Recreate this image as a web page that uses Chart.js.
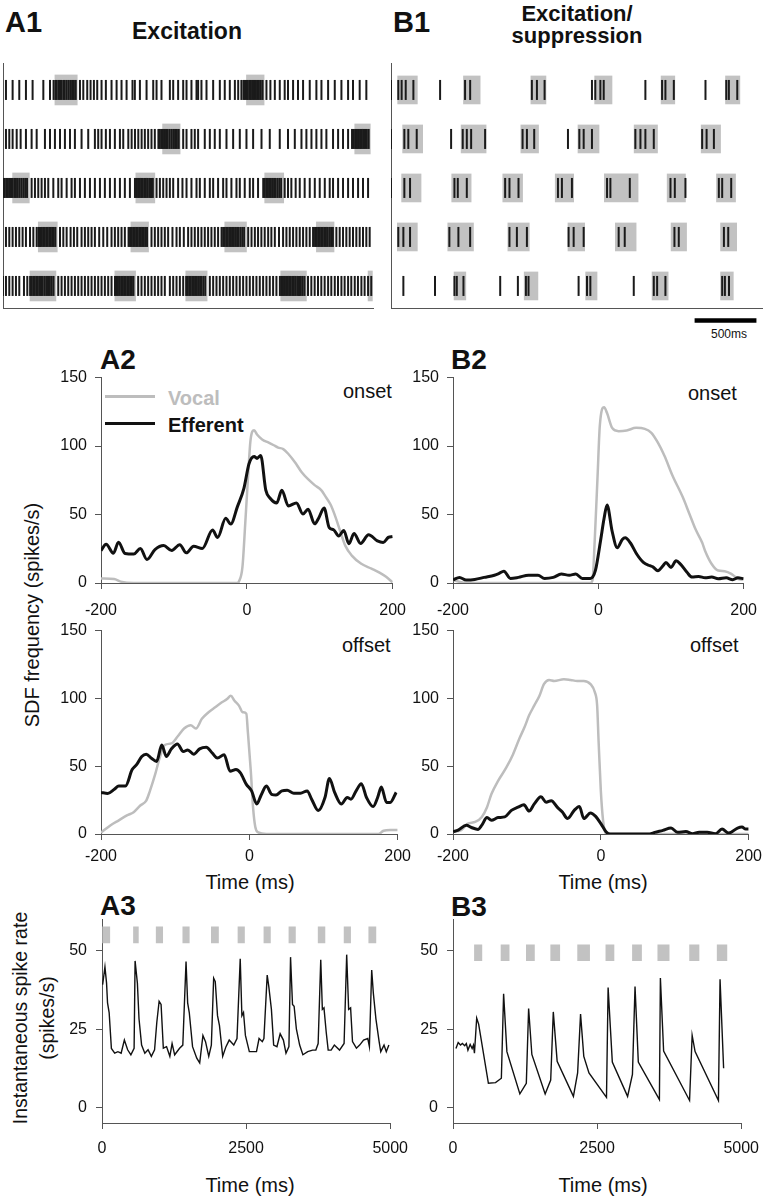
<!DOCTYPE html>
<html>
<head>
<meta charset="utf-8">
<script src="https://cdn.jsdelivr.net/npm/chart.js@4.4.1/dist/chart.umd.min.js"></script>
<style>
    body { margin: 0; background: #fff; }
    #page { position: relative; width: 770px; height: 1200px; overflow: hidden; font-family: "Liberation Sans", Arial, sans-serif; color: #111; }
    canvas { position: absolute; }
    .t { position: absolute; white-space: nowrap; line-height: 1; }
    .panel { font-weight: bold; font-size: 28px; }
    .note { font-size: 20px; }
    .ytitle { position: absolute; text-align: center; transform: rotate(-90deg); white-space: nowrap; }
</style>
</head>
<body>
<div id="page">
    <div class="t panel" style="left:5px;top:8px;font-size:29px">A1</div>
    <div class="t panel" style="left:393px;top:8px;font-size:29px">B1</div>
    <div class="t panel" style="left:100px;top:346px">A2</div>
    <div class="t panel" style="left:451px;top:346px">B2</div>
    <div class="t panel" style="left:100px;top:892px">A3</div>
    <div class="t panel" style="left:451px;top:893px">B3</div>

    <div class="t" style="left:87px;top:20px;width:200px;text-align:center;font-weight:bold;font-size:23px">Excitation</div>
    <div class="t" style="left:477px;top:3px;width:200px;text-align:center;font-weight:bold;font-size:22px;line-height:22px;white-space:normal">Excitation/<br>suppression</div>

    <div class="t" style="left:711px;top:328px;font-size:12px">500ms</div>

    <div style="position:absolute;left:105px;top:395px;width:50px;height:3px;background:#bdbdbd"></div>
    <div class="t" style="left:168px;top:388px;font-size:20px;font-weight:bold;color:#bdbdbd">Vocal</div>
    <div style="position:absolute;left:105px;top:422px;width:50px;height:3px;background:#111"></div>
    <div class="t" style="left:168px;top:415px;font-size:20px;font-weight:bold">Efferent</div>

    <div class="t note" style="left:343px;top:381px">onset</div>
    <div class="t note" style="left:688px;top:383px">onset</div>
    <div class="t note" style="left:342px;top:635px">offset</div>
    <div class="t note" style="left:690px;top:635px">offset</div>

    <div class="t note" style="left:150px;top:872px;width:200px;text-align:center">Time (ms)</div>
    <div class="t note" style="left:503px;top:872px;width:200px;text-align:center">Time (ms)</div>
    <div class="t note" style="left:150px;top:1175px;width:200px;text-align:center">Time (ms)</div>
    <div class="t note" style="left:503px;top:1175px;width:200px;text-align:center">Time (ms)</div>

    <div class="ytitle" style="left:-118px;top:605px;width:300px;height:20px;line-height:20px;font-size:20px">SDF frequency (spikes/s)</div>
    <div class="ytitle" style="left:-96px;top:991px;width:260px;height:54px;line-height:27px;font-size:19.5px">Instantaneous spike rate<br>(spikes/s)</div>
</div>

<script>
// ---- A1 raster: spike times (ms) per trial, vocal boxes [start, end] ----
const a1Row1 = [24, 78, 132, 186, 240, 327, 381, 410, 425, 435, 450, 462, 475, 490, 500, 515, 530, 545, 560, 575, 590, 624, 651, 683, 710, 737, 764, 799, 834, 880, 921, 961, 1002, 1050, 1069, 1110, 1164, 1218, 1245, 1285, 1353, 1380, 1420, 1461, 1488, 1528, 1569, 1582, 1609, 1650, 1704, 1758, 1798, 1839, 1880, 1907, 1933, 1950, 1962, 1975, 1985, 1998, 2010, 2022, 2035, 2048, 2060, 2075, 2090, 2105, 2136, 2168, 2204, 2244, 2284, 2311, 2352, 2392, 2433, 2487, 2541, 2582, 2636, 2690, 2744, 2798, 2838, 2892, 2946]
const a1Row2 = [24, 51, 78, 111, 143, 186, 232, 273, 340, 381, 421, 462, 502, 543, 583, 637, 691, 745, 772, 799, 834, 867, 907, 948, 975, 1016, 1043, 1070, 1097, 1124, 1150, 1177, 1204, 1231, 1260, 1272, 1285, 1297, 1310, 1322, 1335, 1350, 1365, 1380, 1395, 1410, 1425, 1461, 1488, 1528, 1555, 1582, 1636, 1677, 1717, 1758, 1812, 1866, 1920, 1974, 2028, 2096, 2163, 2244, 2311, 2366, 2420, 2460, 2501, 2541, 2582, 2622, 2676, 2717, 2757, 2798, 2830, 2845, 2858, 2870, 2882, 2895, 2908, 2920, 2935, 2950, 2965]
const a1Row3 = [5, 15, 28, 40, 52, 65, 78, 92, 105, 120, 135, 150, 165, 180, 195, 232, 259, 286, 313, 340, 367, 408, 448, 475, 516, 556, 583, 624, 664, 705, 745, 786, 826, 867, 907, 948, 988, 1029, 1070, 1082, 1095, 1108, 1120, 1132, 1145, 1158, 1170, 1185, 1200, 1215, 1245, 1272, 1299, 1326, 1353, 1380, 1420, 1455, 1488, 1528, 1569, 1596, 1636, 1677, 1704, 1744, 1785, 1812, 1852, 1893, 1920, 1960, 2001, 2028, 2068, 2110, 2122, 2135, 2148, 2160, 2172, 2185, 2198, 2210, 2225, 2240, 2255, 2284, 2311, 2338, 2373, 2406, 2446, 2487, 2528, 2568, 2609, 2649, 2676, 2717, 2757, 2798, 2838, 2879, 2919, 2960]
const a1Row4 = [24, 51, 78, 105, 132, 159, 186, 219, 246, 273, 288, 300, 312, 325, 337, 350, 362, 375, 388, 400, 412, 425, 462, 489, 516, 548, 575, 602, 637, 664, 691, 718, 745, 780, 813, 845, 880, 907, 934, 961, 988, 1018, 1030, 1042, 1055, 1068, 1080, 1092, 1105, 1118, 1130, 1142, 1155, 1168, 1204, 1231, 1258, 1285, 1312, 1339, 1374, 1407, 1434, 1466, 1501, 1528, 1555, 1582, 1609, 1636, 1663, 1690, 1717, 1744, 1772, 1785, 1797, 1810, 1822, 1835, 1848, 1860, 1872, 1885, 1898, 1910, 1925, 1940, 1955, 1988, 2015, 2042, 2068, 2095, 2122, 2150, 2176, 2204, 2238, 2271, 2298, 2325, 2352, 2379, 2406, 2433, 2460, 2487, 2514, 2530, 2542, 2555, 2568, 2580, 2592, 2605, 2618, 2630, 2645, 2660, 2675, 2703, 2730, 2757, 2784, 2811, 2838, 2865, 2892, 2919, 2946, 2973]
const a1Row5 = [0, 24, 51, 78, 105, 132, 170, 197, 220, 232, 245, 257, 270, 282, 295, 308, 320, 335, 350, 365, 380, 395, 410, 448, 475, 502, 529, 556, 583, 610, 637, 664, 691, 718, 745, 772, 799, 826, 853, 880, 908, 920, 932, 945, 958, 970, 982, 995, 1008, 1020, 1032, 1045, 1058, 1096, 1123, 1150, 1177, 1204, 1231, 1258, 1285, 1312, 1353, 1380, 1407, 1434, 1461, 1485, 1497, 1510, 1522, 1535, 1548, 1560, 1572, 1585, 1598, 1610, 1625, 1640, 1677, 1704, 1731, 1758, 1785, 1812, 1839, 1866, 1893, 1920, 1947, 1974, 2001, 2028, 2055, 2082, 2109, 2136, 2163, 2190, 2217, 2245, 2257, 2270, 2282, 2295, 2308, 2320, 2332, 2345, 2358, 2370, 2385, 2400, 2415, 2430, 2445, 2473, 2500, 2527, 2554, 2581, 2608, 2636, 2662, 2690, 2716, 2744, 2770, 2798, 2824, 2852, 2878, 2906, 2932, 2960, 2986]
const a1Box1 = [[421, 602], [1974, 2117]]
const a1Box2 = [[1294, 1436], [2852, 2978]]
const a1Box3 = [[78, 213], [1077, 1231], [2122, 2276]]
const a1Box4 = [[286, 440], [1037, 1180], [1798, 1974], [2541, 2684]]
const a1Box5 = [[219, 429], [907, 1075], [1482, 1655], [2252, 2460], [2960, 2995]]

// ---- B1 raster ----
const b1Row1 = [0, 59, 86, 119, 181, 397, 599, 640, 1139, 1180, 1242, 1625, 1652, 1693, 1720, 2057, 2192, 2219, 2287, 2543, 2711, 2732, 2800]
const b1Row2 = [0, 108, 140, 208, 486, 580, 613, 648, 761, 1064, 1099, 1158, 1431, 1523, 1558, 1625, 1976, 2017, 2057, 2125, 2516, 2552, 2611]
const b1Row3 = [0, 108, 154, 513, 540, 613, 923, 958, 1031, 1350, 1382, 1463, 1747, 1774, 1931, 2260, 2295, 2381, 2651, 2678, 2751]
const b1Row4 = [59, 100, 154, 472, 545, 640, 958, 1018, 1099, 1436, 1477, 1558, 1841, 1890, 2292, 2327, 2692, 2727]
const b1Row5 = [100, 356, 513, 532, 586, 883, 1026, 1091, 1112, 1517, 1585, 1612, 1963, 2125, 2152, 2219, 2678, 2700, 2733]
const b1Box1 = [[54, 213], [586, 721], [1131, 1253], [1647, 1787], [2184, 2295], [2705, 2821]]
const b1Box2 = [[94, 256], [567, 769], [1050, 1193], [1512, 1682], [1966, 2155], [2508, 2665]]
const b1Box3 = [[86, 243], [491, 648], [904, 1064], [1328, 1477], [1725, 1998], [2233, 2381], [2632, 2786]]
const b1Box4 = [[51, 213], [459, 667], [945, 1118], [1431, 1566], [1814, 1982], [2265, 2390], [2665, 2795]]
const b1Box5 = [[510, 605], [1077, 1188], [1574, 1666], [2111, 2241], [2665, 2768]]
const scaleBarMs = [2455, 2955]

// ---- A2 / B2 spike density functions (time ms, spikes/s) ----
const tA2onGray = [-200, -182, -173, -155, -13, -11, -6, -2, 2, 5, 10, 14, 21, 30, 37, 43, 50, 57, 66, 75, 84, 93, 102, 108, 115, 122, 128, 135, 144, 157, 171, 182, 191, 200]
const vA2onGray = [3.3, 2.9, 1.0, 0, 0, 0.9, 11.7, 45, 80.5, 104, 111.6, 108.4, 104.8, 102.5, 100.6, 98.9, 97.8, 94.2, 88.2, 81.1, 75.8, 71.5, 67.8, 63.1, 57.1, 47.6, 38, 27.3, 20, 14, 10.5, 7.6, 4.5, 0.5]
const tA2onBlack = [-200, -193, -183, -176, -167, -155, -146, -137, -126, -114, -103, -92, -83, -73, -61, -47, -40, -29, -22, -13, -4, 3, 10, 14, 19, 26, 32, 41, 48, 57, 68, 77, 84, 93, 99, 106, 113, 119, 126, 133, 140, 147, 156, 167, 179, 187, 194, 200]
const vA2onBlack = [23.7, 28.3, 21.8, 29.7, 21.6, 21.2, 25.2, 17.2, 24.4, 27.3, 23.7, 28.0, 22.0, 26.8, 25.2, 38.7, 33.2, 47.2, 43.1, 55.6, 69.1, 87.1, 92.4, 91, 93.2, 67.8, 61.9, 58.5, 67.8, 56.3, 58.5, 50.4, 53.9, 43.2, 47.9, 54.8, 40.4, 38.9, 34.3, 38.3, 28.6, 36.2, 28.9, 35.2, 30.8, 29.6, 33.3, 34]

const tA2offGray = [-200, -187, -176, -165, -156, -147, -139, -134, -127, -121, -114, -105, -97, -88, -79, -72, -64, -55, -46, -37, -30, -25, -20, -14, -9, -4, -2, 2, 5, 8, 12, 23, 174, 181, 190, 200]
const vA2offGray = [1, 6.5, 10.1, 13.7, 16.1, 21, 24.6, 31.8, 43.9, 55.9, 65.6, 66.8, 71.7, 77.8, 80.2, 77.8, 85, 89.8, 93.5, 97.1, 99.5, 101.9, 98.3, 94.7, 89.8, 88.7, 75.4, 46.4, 19.8, 5.3, 1.2, 0, 0, 2.4, 2.9, 2.9]
const tA2offBlack = [-200, -191, -182, -176, -167, -158, -152, -145, -139, -132, -125, -118, -112, -105, -97, -89, -83, -75, -67, -58, -50, -43, -34, -26, -18, -12, -4, 3, 10, 16, 23, 30, 36, 44, 51, 60, 69, 78, 84, 93, 102, 108, 115, 124, 132, 137, 144, 151, 158, 167, 173, 178, 185, 190, 198]
const vA2offBlack = [30.7, 29.9, 33, 35.4, 35.4, 47.5, 51.1, 57.2, 58.8, 55.9, 53.5, 65.6, 57.2, 62.8, 66.4, 60.8, 62, 58.8, 62.8, 64, 59.7, 56, 58.5, 46.3, 47.5, 45.1, 36.6, 31.8, 22.1, 28.8, 35.4, 29.3, 28.8, 31.8, 32.2, 30.1, 30.1, 31.8, 25.7, 17.3, 26.9, 41, 30.7, 22.1, 26.9, 25.7, 31.8, 37.1, 26.9, 20.2, 26.9, 34.6, 23.3, 23.3, 30.7]

const tB2onGray = [-200, -182, -11, -8, -5, -1, 2, 8, 12, 19, 28, 39, 52, 64, 73, 82, 91, 102, 116, 125, 134, 143, 147, 156, 165, 174, 183, 192, 199]
const vB2onGray = [2.2, 0, 0, 2, 30.6, 78.5, 114.5, 128.4, 124.1, 113.3, 110.9, 111.4, 113.3, 112.6, 109.7, 102.5, 92.9, 78.5, 62.9, 51, 39, 29.4, 23.4, 13.9, 9.1, 8.6, 6.7, 3.1, 2.4]
const tB2onBlack = [-200, -191, -182, -170, -157, -143, -137, -130, -121, -110, -96, -83, -74, -62, -51, -40, -31, -22, -11, -4, 3, 8, 12, 19, 26, 33, 37, 44, 53, 62, 71, 75, 82, 89, 93, 100, 107, 113, 122, 129, 138, 147, 156, 165, 176, 185, 192, 200]
const vB2onBlack = [2.2, 4.1, 2.2, 2.6, 4.1, 5.7, 6.9, 8.6, 3.3, 4.1, 5.7, 5.7, 3.3, 4.1, 6.5, 5.7, 6.5, 3.3, 3.3, 9.2, 30.7, 47.4, 57, 37.8, 25.8, 31.8, 33, 29.4, 21, 15, 12.6, 11.8, 9, 12.6, 15, 11.4, 16.2, 13.8, 7.8, 4.3, 4.8, 3.8, 4.3, 3.1, 3.8, 2.4, 3.8, 3.1]

const tB2offGray = [-200, -189, -180, -170, -161, -154, -148, -139, -128, -119, -110, -103, -97, -90, -83, -77, -70, -63, -50, -41, -32, -23, -14, -8, -5, -3, 0, 3, 7, 200]
const vB2offGray = [1.7, 2.9, 7.7, 8.9, 12.6, 19.8, 29.5, 39.2, 48.9, 58.5, 70.6, 79.1, 87.5, 94.8, 102, 110.5, 113.6, 112.9, 114.1, 113.6, 112.9, 112.9, 110.5, 104.4, 94.8, 68.2, 32, 10.3, 0, 0]
const tB2offBlack = [-200, -193, -182, -175, -166, -161, -154, -148, -139, -130, -121, -112, -104, -97, -90, -81, -74, -67, -59, -52, -45, -36, -29, -23, -14, -7, 0, 7, 13, 66, 73, 84, 95, 104, 115, 124, 133, 144, 155, 164, 173, 185, 191, 196, 200]
const vB2offBlack = [1.7, 2.9, 6.5, 4.8, 3.4, 6.5, 12.1, 10.1, 12.1, 12.6, 17.4, 19.8, 21.5, 16.9, 22.2, 27.5, 23.4, 24.6, 19.8, 16.2, 11.4, 17.4, 20.3, 11.4, 15.5, 13, 7.7, 1.7, 0, 0, 1.2, 2.7, 4.4, 1.2, 1.9, 0.2, 1.2, 1.2, 0.2, 3.6, 0.7, 4.4, 5.1, 3.6, 3.6]

// ---- A3 / B3 instantaneous rate (time ms, spikes/s) and vocal bouts ----
const tA3 = [11, 51, 79, 96, 124, 163, 220, 276, 332, 388, 445, 501, 557, 574, 614, 642, 687, 743, 799, 856, 912, 951, 991, 1025, 1064, 1120, 1177, 1216, 1261, 1346, 1402, 1458, 1486, 1514, 1571, 1644, 1695, 1751, 1796, 1852, 1897, 1937, 1965, 2004, 2038, 2094, 2151, 2207, 2286, 2342, 2398, 2427, 2455, 2488, 2556, 2624, 2680, 2725, 2781, 2809, 2866, 2894, 2939, 2978, 3035, 3091, 3147, 3192, 3243, 3271, 3305, 3333, 3372, 3429, 3485, 3569, 3654, 3710, 3750, 3795, 3823, 3851, 3890, 3924, 3975, 4031, 4121, 4200, 4245, 4279, 4313, 4346, 4414, 4470, 4538, 4611, 4639, 4679, 4707, 4752, 4808, 4836, 4893, 4932, 4977]
const vA3 = [39.2, 44.9, 39.7, 33.4, 30.3, 18.8, 17.3, 17.8, 17.3, 21.5, 18.4, 16.8, 18.9, 46.8, 39.7, 28.3, 19.9, 17.3, 18.4, 16.3, 18.4, 27.2, 33.9, 32.9, 18.9, 19.4, 16.3, 20.4, 16.8, 18.9, 19.9, 46.6, 33.4, 30.3, 19.4, 15.7, 14.2, 23.0, 21.0, 16.3, 19.9, 41.3, 40.2, 29.3, 26.1, 16.3, 19.4, 21.5, 19.9, 22.0, 47.5, 29.3, 30.3, 23.0, 17.8, 17.8, 17.8, 22.0, 21.0, 22.0, 42.3, 38.6, 31.3, 19.9, 19.4, 23.5, 21.5, 17.3, 19.4, 48.0, 32.9, 32.3, 25.1, 19.9, 16.8, 17.8, 18.3, 18.3, 20.4, 47.2, 31.3, 31.8, 24.0, 18.3, 18.3, 19.9, 18.3, 20.4, 48.8, 31.3, 31.8, 21.0, 18.9, 19.9, 21.5, 22.0, 19.4, 43.9, 36.6, 28.3, 21.0, 17.8, 19.9, 17.8, 19.9]
const a3Vocal = [[11, 135], [546, 631], [940, 1053], [1402, 1514], [1897, 2021], [2359, 2472], [2809, 2922], [3243, 3356], [3750, 3868], [4200, 4313], [4628, 4752]]

const tB3 = [51, 90, 130, 163, 203, 231, 259, 298, 332, 355, 372, 411, 445, 614, 738, 839, 878, 935, 1160, 1272, 1312, 1368, 1599, 1695, 1740, 1807, 2089, 2162, 2213, 2269, 2359, 2663, 2691, 2764, 3029, 3113, 3158, 3215, 3581, 3598, 3654, 4104, 4149, 4200, 4605, 4633, 4695]
const vB3 = [18.8, 20.7, 19.9, 20.4, 19.7, 20.4, 18.3, 20.1, 18.8, 19.9, 17.3, 28.5, 26.6, 7.7, 7.9, 9.3, 36.3, 17.8, 4.3, 7.7, 31.6, 16.9, 4.3, 8.7, 30.5, 14.7, 3.5, 11.0, 29.8, 16.3, 11.0, 3.2, 38.3, 14.5, 3.5, 10.5, 38.6, 14.5, 2.5, 41.3, 18.0, 2.2, 23.0, 17.8, 2.2, 40.9, 12.5]
const b3Vocal = [[372, 501], [833, 974], [1272, 1413], [1695, 1852], [2162, 2370], [2652, 2793], [3113, 3271], [3553, 3750], [4104, 4268], [4583, 4752]]

const sdfTicks = [-200, 0, 200]
const sdfYTicks = [0, 50, 100, 150]
const rateTicks = [0, 2500, 5000]
const rateYTicks = [0, 25, 50]

// ================= drawing =================
Chart.defaults.font.family = '"Liberation Sans", Arial, sans-serif'
Chart.defaults.font.size = 16
Chart.defaults.color = '#111'
Chart.defaults.animation = false
Chart.defaults.responsive = false
Chart.defaults.devicePixelRatio = 1
Chart.defaults.layout.autoPadding = false
Chart.defaults.plugins.legend.display = false
Chart.defaults.plugins.tooltip.enabled = false

const GRAY = '#bdbdbd'
const BOX = '#c2c2c2'
const AXIS = '#555'

const page = document.getElementById('page')
function makeCanvas(left, top, w, h) {
    const c = document.createElement('canvas')
    c.width = w
    c.height = h
    c.style.left = left + 'px'
    c.style.top = top + 'px'
    page.appendChild(c)
    return c
}
const zip = (ts, vs) => ts.map((t, i) => ({ x: t, y: vs[i] }))
const fixedTicks = vals => s => { s.ticks = vals.map(v => ({ value: v })) }

function plainAxis(extra) {
    return Object.assign({
        type: 'linear',
        offset: false,
        ticks: { display: false },
        grid: { display: false, offset: false },
        border: { display: true, color: AXIS, width: 1 },
    }, extra)
}

function raster(canvas, spikeRows, boxRows, boxH, pad, extraSets) {
    const datasets = []
    spikeRows.forEach((row, i) => datasets.push({
        type: 'scatter',
        data: row.map(t => ({ x: t, y: i + 1 })),
        pointStyle: 'line',
        pointRotation: 90,
        pointRadius: 10,
        pointHoverRadius: 10,
        pointBorderWidth: 2,
        pointBorderColor: '#1a1a1a',
        order: 1,
    }))
    // all vocal boxes in one bar dataset so bars are not grouped side by side
    const boxes = []
    boxRows.forEach((row, i) => row.forEach(b => boxes.push({ x: b, y: i + 1 })))
    datasets.push({
        type: 'bar',
        indexAxis: 'y',
        grouped: false,
        data: boxes,
        backgroundColor: BOX,
        barThickness: boxH,
        order: 2,
    })
    return new Chart(canvas, {
        type: 'scatter',
        data: { datasets: datasets.concat(extraSets || []) },
        options: {
            layout: { padding: pad },
            scales: {
                x: plainAxis({ min: 0, max: 3000, afterFit: s => { s.height = 0 } }),
                y: plainAxis({ min: 0.45, max: 5.45, reverse: true, afterFit: s => { s.width = 3 } }),
            },
        },
    })
}

function tickAxis(min, max, ticks, pad, fit) {
    return {
        type: 'linear',
        min, max,
        offset: false,
        afterBuildTicks: fixedTicks(ticks),
        afterFit: fit,
        ticks: { padding: pad, color: '#111', maxRotation: 0, autoSkip: false, callback: v => String(v) },
        grid: { drawOnChartArea: false, drawTicks: true, tickLength: 6, color: AXIS, offset: false },
        border: { display: true, color: AXIS, width: 1 },
    }
}

function sdf(canvas, yw, xPad, gray, black) {
    return new Chart(canvas, {
        type: 'scatter',
        data: {
            datasets: [
                { data: black, showLine: true, borderColor: '#111', borderWidth: 3, pointRadius: 0, cubicInterpolationMode: 'monotone', order: 1 },
                { data: gray, showLine: true, borderColor: GRAY, borderWidth: 2.5, pointRadius: 0, cubicInterpolationMode: 'monotone', order: 2 },
            ],
        },
        options: {
            layout: { padding: { top: 14, right: 20, left: 0, bottom: 0 } },
            scales: {
                x: tickAxis(-200, 200, sdfTicks, xPad, s => { s.height = 40 }),
                y: tickAxis(0, 150, sdfYTicks, 8, s => { s.width = yw }),
            },
        },
    })
}

function rate(canvas, yw, ts, vs, vocal, barY) {
    return new Chart(canvas, {
        type: 'scatter',
        data: {
            datasets: [
                { data: zip(ts, vs), showLine: true, borderColor: '#111', borderWidth: 1.4, pointRadius: 0, tension: 0, order: 1 },
                { type: 'bar', indexAxis: 'y', grouped: false, data: vocal.map(b => ({ x: b, y: barY })), backgroundColor: BOX, barThickness: 16, order: 2 },
            ],
        },
        options: {
            layout: { padding: { top: 14, right: 20, left: 0, bottom: 0 } },
            scales: {
                x: tickAxis(0, 5000, rateTicks, 10, s => { s.height = 40 }),
                y: tickAxis(-5, 60, rateYTicks, 9, s => { s.width = yw }),
            },
        },
    })
}

// rasters (B1 canvas is taller so the 500 ms scale bar below the axis fits)
raster(makeCanvas(0, 55, 390, 262),
    [a1Row1, a1Row2, a1Row3, a1Row4, a1Row5],
    [a1Box1, a1Box2, a1Box3, a1Box4, a1Box5], 30,
    { top: 8, right: 17, bottom: 9, left: 0 })
raster(makeCanvas(388, 55, 382, 280),
    [b1Row1, b1Row2, b1Row3, b1Row4, b1Row5],
    [b1Box1, b1Box2, b1Box3, b1Box4, b1Box5], 28,
    { top: 8, right: 8, bottom: 27, left: 0 },
    [{ type: 'line', data: scaleBarMs.map(t => ({ x: t, y: 5.705 })), borderColor: '#000', borderWidth: 4.5, pointRadius: 0, clip: false, order: 0 }])

// spike density functions
sdf(makeCanvas(40, 360, 378, 263), 61, 12, zip(tA2onGray, vA2onGray), zip(tA2onBlack, vA2onBlack))
sdf(makeCanvas(392, 360, 377, 263), 61, 12, zip(tB2onGray, vB2onGray), zip(tB2onBlack, vB2onBlack))
sdf(makeCanvas(40, 613, 378, 261), 61, 7, zip(tA2offGray, vA2offGray), zip(tA2offBlack, vA2offBlack))
sdf(makeCanvas(392, 613, 377, 261), 61, 7, zip(tB2offGray, vB2offGray), zip(tB2offBlack, vB2offBlack))

// instantaneous rate
rate(makeCanvas(40, 901, 378, 262), 62, tA3, vA3, a3Vocal, 55.1)
rate(makeCanvas(392, 901, 377, 262), 61, tB3, vB3, b3Vocal, 49.4)
</script>
</body>
</html>
